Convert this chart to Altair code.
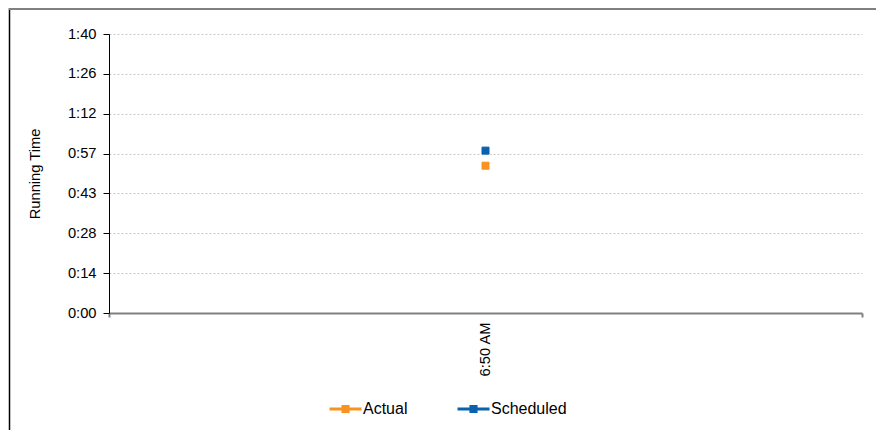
import altair as alt
import pandas as pd

# ---- data ----
trips = ["6:50 AM"]
series = ["Actual", "Scheduled"]
actual_minutes = [52.8]
scheduled_minutes = [58.2]
series_colors = ["#F7931E", "#0A62AE"]
y_tick_labels = ["0:00", "0:14", "0:28", "0:43", "0:57", "1:12", "1:26", "1:40"]
y_max_minutes = 100

FONT = "Liberation Sans"
AXIS_FS = 14.7
LEGEND_FS = 16

rows = []
for i, t in enumerate(trips):
    rows.append({"Trip": t, "Series": "Actual", "Minutes": actual_minutes[i]})
    rows.append({"Trip": t, "Series": "Scheduled", "Minutes": scheduled_minutes[i]})
df = pd.DataFrame(rows)

n_ticks = len(y_tick_labels)
tick_vals = [i * y_max_minutes / (n_ticks - 1) for i in range(n_ticks)]
label_arr = "[" + ",".join("'" + s + "'" for s in y_tick_labels) + "]"
label_expr = f"{label_arr}[round(datum.value * {n_ticks - 1} / {y_max_minutes})]"

W, H = 753, 279
PAD = {"left": 101, "top": 26, "right": 14, "bottom": 117}

legend_symbol = "M-1,0L1,0M-0.16,-0.16L0.16,-0.16L0.16,0.16L-0.16,0.16Z"
series_scale = alt.Scale(domain=series, range=series_colors)
legend = alt.Legend(
    title=None,
    orient="none",
    legendX=219,
    legendY=357,
    direction="horizontal",
    symbolType=legend_symbol,
    symbolSize=1024,
    symbolStrokeWidth=3,
    symbolOpacity=1,
    labelFont=FONT,
    labelFontSize=LEGEND_FS,
    labelColor="#000000",
    labelOffset=0,
    columnPadding=43,
    padding=0,
)

points = alt.Chart(df).mark_point(
    filled=True, shape="square", size=49, opacity=1, strokeWidth=1
).encode(
    x=alt.X(
        "Trip:N",
        sort=trips,
        scale=alt.Scale(type="band", paddingInner=0, paddingOuter=0),
        axis=alt.Axis(
            title=None,
            grid=False,
            domainColor="#808080",
            domainWidth=2,
            ticks=True,
            tickBand="extent",
            tickColor="#808080",
            tickWidth=2,
            tickSize=4,
            labelAngle=270,
            labelAlign="right",
            labelBaseline="middle",
            labelPadding=5,
            labelFont=FONT,
            labelFontSize=AXIS_FS,
            labelColor="#000000",
        ),
    ),
    y=alt.Y(
        "Minutes:Q",
        scale=alt.Scale(domain=[0, y_max_minutes], nice=False, zero=True),
        axis=alt.Axis(
            title="Running Time",
            titleFont=FONT,
            titleFontSize=AXIS_FS,
            titleFontWeight="normal",
            titleColor="#000000",
            titleAngle=270,
            titleAlign="center",
            titleBaseline="middle",
            titleX=-74,
            titleY=H / 2,
            values=tick_vals,
            labelExpr=label_expr,
            labelFont=FONT,
            labelFontSize=AXIS_FS,
            labelColor="#000000",
            labelPadding=7,
            domainColor="#000000",
            domainWidth=1,
            tickColor="#000000",
            tickSize=6,
            grid=True,
            gridColor="#C8C8C8",
            gridDash=[2, 2],
            gridWidth=1,
        ),
    ),
    color=alt.Color("Series:N", scale=series_scale, legend=legend),
    stroke=alt.Stroke("Series:N", scale=series_scale, legend=legend),
)

frame_df = pd.DataFrame({"k": [0]})
left_frame = alt.Chart(frame_df).mark_rule(color="#000000", strokeWidth=1.5).encode(
    x=alt.value(-PAD["left"] + 1.5),
    y=alt.value(-PAD["top"]),
    y2=alt.value(H + PAD["bottom"]),
)
top_frame = alt.Chart(frame_df).mark_rule(color="#808080", strokeWidth=2).encode(
    x=alt.value(-PAD["left"] + 1),
    x2=alt.value(W + PAD["right"]),
    y=alt.value(-PAD["top"] + 1),
)

chart = alt.layer(left_frame, top_frame, points).properties(
    width=W,
    height=H,
    autosize=alt.AutoSizeParams(type="none"),
    padding=PAD,
    background="#FFFFFF",
).configure_view(stroke=None)

chart.save("out.html", embed_options={"renderer": "svg", "actions": False})
